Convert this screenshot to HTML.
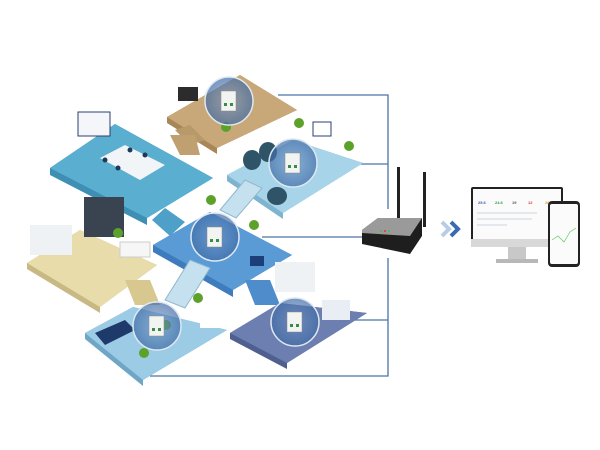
<!DOCTYPE html>
<html><head><style>html,body{margin:0;padding:0;background:#fff;}svg{display:block}</style></head>
<body>
<svg width="600" height="450" viewBox="0 0 600 450" xmlns="http://www.w3.org/2000/svg">
<defs>
<radialGradient id="sens" cx="50%" cy="50%" r="50%"><stop offset="0" stop-color="#6a8fc0" stop-opacity="0.55"/><stop offset="1" stop-color="#3e6aa5" stop-opacity="0.7"/></radialGradient>
</defs>
<g stroke="#4a74a8" stroke-width="1.3" fill="none">
<polyline points="278,95 388,95 388,209"/>
<line x1="330" y1="164" x2="388" y2="164"/>
<line x1="262" y1="237" x2="364" y2="237"/>
<polyline points="388,258 388,376 150,376"/>
<line x1="330" y1="320" x2="388" y2="320"/>
</g>
<g>
<polygon points="50,168 115,124 213,178 147,218 147,225 50,175" fill="#3f8fb5"/>
<polygon points="50,168 115,124 213,178 147,218" fill="#5aaed0"/>
<rect x="78" y="112" width="32" height="24" fill="#f4f6fa" stroke="#2a3f70"/>
<polygon points="100,158 125,145 165,165 140,180" fill="#f2f5f8"/>
<g fill="#1e3a5a"><circle cx="105" cy="160" r="2.5"/><circle cx="118" cy="168" r="2.5"/><circle cx="145" cy="155" r="2.5"/><circle cx="130" cy="150" r="2.5"/></g>
<polygon points="167,117 240,75 297,110 217,148 217,154 167,123" fill="#a88656"/>
<polygon points="167,117 240,75 297,110 217,148" fill="#c8a878"/>
<rect x="178" y="87" width="20" height="14" fill="#2c2c2c"/>
<polygon points="175,130 190,125 205,140 190,145" fill="#b8996a"/>
<polygon points="227,175 293,140 363,163 283,213 283,219 227,181" fill="#7fb4d0"/>
<polygon points="227,175 293,140 363,163 283,213" fill="#a8d4ea"/>
<ellipse cx="252" cy="160" rx="9" ry="10" fill="#2f5468"/>
<ellipse cx="268" cy="152" rx="9" ry="10" fill="#2f5468"/>
<ellipse cx="277" cy="196" rx="10" ry="9" fill="#2f5468"/>
<rect x="313" y="122" width="18" height="14" fill="#fff" stroke="#2a3f70"/>
<polygon points="220,210 245,180 262,188 236,218" fill="#c5e0ee" stroke="#8fb8cc"/>
<polygon points="27,263 80,230 157,265 100,307 100,313 27,269" fill="#c8b884"/>
<polygon points="27,263 80,230 157,265 100,307" fill="#e8dcaa"/>
<rect x="84" y="197" width="40" height="40" fill="#3a4450"/>
<rect x="30" y="225" width="42" height="30" fill="#eef2f5"/>
<rect x="120" y="242" width="30" height="15" fill="#f6f6f6" stroke="#ccc"/>
<polygon points="153,245 210,212 292,255 233,290 233,297 153,252" fill="#3f7cbd"/>
<polygon points="153,245 210,212 292,255 233,290" fill="#5b9bd5"/>
<polygon points="152,220 165,208 185,222 170,236" fill="#4ea0c8"/>
<rect x="250" y="256" width="14" height="10" fill="#1c3f7a"/>
<polygon points="170,135 195,135 200,155 180,155" fill="#c0a070"/>
<polygon points="125,280 150,280 160,305 135,305" fill="#d8c890"/>
<polygon points="245,280 270,280 280,305 255,305" fill="#4f8ccc"/>
<polygon points="165,300 190,260 210,268 185,308" fill="#c5e0ee" stroke="#8fb8cc"/>
<polygon points="85,333 133,307 227,330 143,380 143,386 85,339" fill="#6fa6c6"/>
<polygon points="85,333 133,307 227,330 143,380" fill="#9ccbe5"/>
<polygon points="95,333 125,320 135,330 105,345" fill="#1d3a6a"/>
<rect x="200" y="318" width="18" height="10" fill="#fff"/>
<polygon points="230,333 280,303 367,313 287,363 287,369 230,339" fill="#4e5f90"/>
<polygon points="230,333 280,303 367,313 287,363" fill="#6d7fb0"/>
<rect x="275" y="262" width="40" height="30" fill="#eef2f5"/>
<rect x="322" y="300" width="28" height="20" fill="#e8eef4"/>
</g>
<g fill="#5ca22a">
<circle cx="226" cy="127" r="5"/><circle cx="299" cy="123" r="5"/><circle cx="349" cy="146" r="5"/>
<circle cx="211" cy="200" r="5"/><circle cx="254" cy="225" r="5"/><circle cx="118" cy="233" r="5"/>
<circle cx="198" cy="298" r="5"/><circle cx="144" cy="353" r="5"/><circle cx="166" cy="325" r="5"/>
</g>
<g stroke="#dfe8f2" stroke-width="1.5">
<circle cx="229" cy="101" r="24" fill="url(#sens)"/>
<circle cx="293" cy="163" r="24" fill="url(#sens)"/>
<circle cx="215" cy="237" r="24" fill="url(#sens)"/>
<circle cx="157" cy="326" r="24" fill="url(#sens)"/>
<circle cx="295" cy="322" r="24" fill="url(#sens)"/>
</g>
<g fill="#f2f4f2" stroke="#888" stroke-width="0.5">
<rect x="221" y="91" width="15" height="20"/><rect x="285" y="153" width="15" height="20"/>
<rect x="207" y="227" width="15" height="20"/><rect x="149" y="316" width="15" height="20"/>
<rect x="287" y="312" width="15" height="20"/>
</g>
<g fill="#3a8a4a">
<rect x="224" y="103" width="3" height="3"/><rect x="230" y="103" width="3" height="3"/>
<rect x="288" y="165" width="3" height="3"/><rect x="294" y="165" width="3" height="3"/>
<rect x="210" y="239" width="3" height="3"/><rect x="216" y="239" width="3" height="3"/>
<rect x="152" y="328" width="3" height="3"/><rect x="158" y="328" width="3" height="3"/>
<rect x="290" y="324" width="3" height="3"/><rect x="296" y="324" width="3" height="3"/>
</g>
<rect x="397" y="167" width="3" height="60" fill="#222"/>
<rect x="423" y="172" width="3" height="55" fill="#222"/>
<polygon points="362,230 378,218 422,218 422,236 410,254 362,244" fill="#1e1e1e"/>
<polygon points="362,230 378,218 422,218 410,236 362,233" fill="#9a9a9a"/>
<circle cx="381" cy="231" r="1" fill="#3c3"/><circle cx="385" cy="231" r="1" fill="#e33"/><circle cx="389" cy="231" r="1" fill="#3c3"/>
<polyline points="442,222 449,229 442,236" fill="none" stroke="#b8cce4" stroke-width="4"/>
<polyline points="451,222 458,229 451,236" fill="none" stroke="#3a6ab0" stroke-width="4"/>
<rect x="471" y="187" width="92" height="60" rx="2" fill="#222"/>
<rect x="473" y="189" width="88" height="50" fill="#fbfbfb"/>
<rect x="471" y="239" width="92" height="8" fill="#d8d8d8"/>
<rect x="508" y="247" width="18" height="12" fill="#c8c8c8"/>
<rect x="496" y="259" width="42" height="4" fill="#b8b8b8"/>
<g font-family="Liberation Sans, sans-serif" font-size="4" font-weight="bold">
<text x="478" y="204" fill="#3a5aa8">25.6</text><text x="495" y="204" fill="#2a9a4a">24.6</text>
<text x="512" y="204" fill="#555">19</text><text x="528" y="204" fill="#d33">12</text><text x="545" y="204" fill="#e8a020">26</text>
</g>
<g fill="#e4e8ec"><rect x="477" y="212" width="60" height="2"/><rect x="477" y="218" width="55" height="2"/><rect x="477" y="224" width="30" height="2"/></g>
<rect x="548" y="201" width="32" height="66" rx="4" fill="#222"/>
<rect x="550" y="204" width="28" height="60" rx="2" fill="#fbfbfb"/>
<polyline points="552,240 558,236 564,242 570,232 576,228" fill="none" stroke="#6c6" stroke-width="0.7"/>
</svg>
</body></html>
